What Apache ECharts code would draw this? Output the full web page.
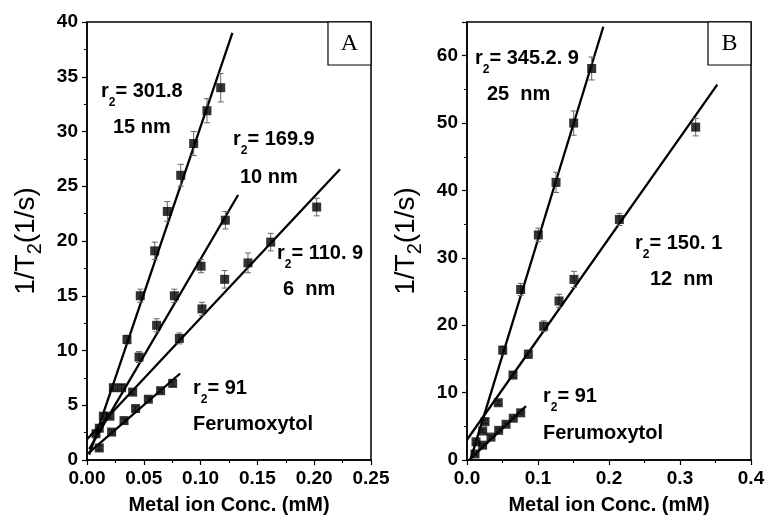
<!DOCTYPE html>
<html>
<head>
<meta charset="utf-8">
<script src="https://cdn.jsdelivr.net/npm/echarts@6/dist/echarts.min.js"></script>
<style>
  html, body { margin: 0; padding: 0; background: #fff; }
  #chart { width: 768px; height: 519px; }
</style>
</head>
<body>
<div id="chart"></div>
<script>
  "use strict";

  // ---- panel A : [conc (mM), 1/T2 (1/s), error] ----
  var a15nm = [
    [0.0079, 2.4, 0.2], [0.0108, 2.9, 0.3], [0.0232, 6.6, 0.3], [0.0352, 11.0, 0.4],
    [0.0469, 15.0, 0.6], [0.0596, 19.1, 0.8], [0.0707, 22.7, 0.9], [0.0825, 26.0, 1.0],
    [0.0939, 28.9, 1.1], [0.1056, 31.9, 1.1], [0.1177, 34.0, 1.3]
  ];
  var a10nm = [
    [0.0144, 4.0, 0.2], [0.0305, 6.6, 0.3], [0.0458, 9.4, 0.5], [0.0613, 12.3, 0.6],
    [0.0769, 15.0, 0.6], [0.1004, 17.7, 0.6], [0.1218, 21.9, 0.8]
  ];
  var a6nm = [
    [0.0202, 4.0, 0.2], [0.0402, 6.2, 0.2], [0.0813, 11.1, 0.5], [0.1012, 13.8, 0.6],
    [0.1212, 16.5, 0.8], [0.1417, 18.0, 0.9], [0.1617, 19.9, 0.8], [0.2022, 23.1, 0.8]
  ];
  var aFeru = [
    [0.0108, 1.1, 0.2], [0.0217, 2.55, 0.2], [0.0326, 3.6, 0.2], [0.0428, 4.7, 0.2],
    [0.054, 5.55, 0.2], [0.0648, 6.33, 0.2], [0.0754, 7.0, 0.3]
  ];
  // fitted lines (end points)
  var aFit15 = [[0.002, 0.5], [0.128, 39.0]];
  var aFit10 = [[0.002, 1.0], [0.133, 24.2]];
  var aFit6 = [[0, 1.9], [0.2227, 26.55]];
  var aFitFeru = [[0.001, 0.6], [0.082, 7.9]];

  // ---- panel B ----
  var b25nm = [
    [0.0127, 2.7, 0.2], [0.0254, 5.7, 0.3], [0.0503, 16.3, 0.6], [0.0756, 25.3, 0.9],
    [0.1005, 33.4, 1.0], [0.1254, 41.2, 1.5], [0.1502, 50.0, 1.8], [0.1756, 58.1, 1.7]
  ];
  var b12nm = [
    [0.0221, 4.3, 0.2], [0.0441, 8.5, 0.3], [0.0648, 12.6, 0.4], [0.0864, 15.7, 0.6],
    [0.108, 19.85, 0.8], [0.1296, 23.6, 1.0], [0.1507, 26.8, 1.2], [0.2146, 35.7, 0.9],
    [0.3221, 49.4, 1.3]
  ];
  var bFeru = [
    [0.0113, 0.9, 0.2], [0.022, 2.2, 0.2], [0.0338, 3.4, 0.2], [0.0446, 4.4, 0.2],
    [0.055, 5.3, 0.2], [0.0652, 6.2, 0.2], [0.0756, 7.0, 0.2]
  ];
  var bFit25 = [[0.005, 0.1], [0.192, 64.3]];
  var bFit12 = [[0, 3.0], [0.3525, 55.7]];
  var bFitFeru = [[0.004, 0.1], [0.083, 8.0]];

  var sans = "Liberation Sans";
  var serif = "Liberation Serif";

  function xAxis(idx, max, interval, digits) {
    return {
      type: "value", gridIndex: idx, min: 0, max: max, interval: interval,
      name: "Metal ion Conc. (mM)", nameLocation: "middle", nameGap: 35,
      nameTextStyle: { fontFamily: sans, fontWeight: "bold", fontSize: 20, color: "#000" },
      axisLine: { show: true, lineStyle: { color: "#000", width: 1.5 } },
      axisTick: { show: true, inside: false, length: 5, lineStyle: { color: "#000", width: 1.2 } },
      minorTick: { show: true, splitNumber: 2, length: 3, lineStyle: { color: "#000", width: 1 } },
      splitLine: { show: false },
      axisLabel: {
        margin: 9, fontFamily: sans, fontWeight: "bold", fontSize: 19, color: "#000",
        formatter: function(v) { return v.toFixed(digits); }
      }
    };
  }

  function yAxis(idx, max, interval) {
    return {
      type: "value", gridIndex: idx, min: 0, max: max, interval: interval,
      name: "1/T{s|2}(1/s)", nameLocation: "middle", nameGap: 42,
      nameTextStyle: {
        fontFamily: sans, fontSize: 28, color: "#000",
        rich: {
          s: { fontFamily: sans, fontSize: 20, color: "#000", verticalAlign: "bottom", lineHeight: 38 }
        }
      },
      axisLine: { show: true, lineStyle: { color: "#000", width: 1.5 } },
      axisTick: { show: true, inside: false, length: 5, lineStyle: { color: "#000", width: 1.2 } },
      minorTick: { show: true, splitNumber: 2, length: 3, lineStyle: { color: "#000", width: 1 } },
      splitLine: { show: false },
      axisLabel: {
        margin: 9, fontFamily: sans, fontWeight: "bold", fontSize: 19, color: "#000",
        showMaxLabel: max % interval === 0,
        formatter: function(v) { return v % interval === 0 ? String(v) : ""; }
      }
    };
  }

  function errorBars(idx, data) {
    return {
      type: "custom", xAxisIndex: idx, yAxisIndex: idx, data: data, z: 3,
      renderItem: function(params, api) {
        var x = api.value(0), y = api.value(1), e = api.value(2);
        var hi = api.coord([x, y + e]);
        var lo = api.coord([x, y - e]);
        var w = 3;
        var st = { stroke: "#666", lineWidth: 1 };
        return {
          type: "group",
          children: [
            { type: "line", shape: { x1: hi[0], y1: hi[1], x2: lo[0], y2: lo[1] }, style: st },
            { type: "line", shape: { x1: hi[0] - w, y1: hi[1], x2: hi[0] + w, y2: hi[1] }, style: st },
            { type: "line", shape: { x1: lo[0] - w, y1: lo[1], x2: lo[0] + w, y2: lo[1] }, style: st }
          ]
        };
      }
    };
  }

  function points(idx, data) {
    return {
      type: "scatter", xAxisIndex: idx, yAxisIndex: idx, symbol: "rect", symbolSize: 9, z: 4,
      itemStyle: { color: "#000" },
      data: data.map(function(d) { return [d[0], d[1]]; })
    };
  }

  function fitLine(idx, data) {
    return {
      type: "line", xAxisIndex: idx, yAxisIndex: idx, data: data, symbol: "none", z: 2,
      lineStyle: { color: "#000", width: 2.3 }, silent: true
    };
  }

  var richLabel = {
    b: { fontFamily: sans, fontWeight: "bold", fontSize: 20, color: "#000", lineHeight: 22, verticalAlign: "top" },
    s: { fontFamily: sans, fontWeight: "bold", fontSize: 12, color: "#000", lineHeight: 28, verticalAlign: "bottom" }
  };

  function note(x, y, text) {
    return {
      type: "text", x: x, y: y, z: 10,
      style: { text: text, rich: richLabel, verticalAlign: "middle", align: "left" }
    };
  }

  function box(x, y, letter) {
    return {
      type: "group", x: x, y: y, z: 10,
      children: [
        { type: "rect", shape: { x: 0, y: 0, width: 43, height: 43 },
          style: { fill: "#fff", stroke: "#000", lineWidth: 1.2 } },
        { type: "text", x: 21.5, y: 22,
          style: { text: letter, fontFamily: serif, fontSize: 24, fill: "#000",
                   align: "center", verticalAlign: "middle" } }
      ]
    };
  }

  var myChart = echarts.init(document.getElementById("chart"), null, { renderer: "canvas" });

  var options = {
    animation: false,
    backgroundColor: "#fff",
    grid: [
      { left: 87, top: 22, width: 284, height: 438, show: true, borderColor: "#000", borderWidth: 1.5,
        outerBoundsMode: "none" },
      { left: 467, top: 22, width: 284, height: 438, show: true, borderColor: "#000", borderWidth: 1.5,
        outerBoundsMode: "none" }
    ],
    xAxis: [xAxis(0, 0.25, 0.05, 2), xAxis(1, 0.4, 0.1, 1)],
    yAxis: [yAxis(0, 40, 5), yAxis(1, 65, 10)],
    series: [
      fitLine(0, aFit15), fitLine(0, aFit10), fitLine(0, aFit6), fitLine(0, aFitFeru),
      errorBars(0, a15nm), errorBars(0, a10nm), errorBars(0, a6nm), errorBars(0, aFeru),
      points(0, a15nm), points(0, a10nm), points(0, a6nm), points(0, aFeru),
      fitLine(1, bFit25), fitLine(1, bFit12), fitLine(1, bFitFeru),
      errorBars(1, b25nm), errorBars(1, b12nm), errorBars(1, bFeru),
      points(1, b25nm), points(1, b12nm), points(1, bFeru)
    ],
    graphic: [
      box(328, 22, "A"),
      box(708, 22, "B"),
      note(101, 95, "{b|r}{s|2}{b|= 301.8}"),
      note(113, 128, "{b|15 nm}"),
      note(233, 143, "{b|r}{s|2}{b|= 169.9}"),
      note(240, 178, "{b|10 nm}"),
      note(277, 257, "{b|r}{s|2}{b|= 110. 9}"),
      note(283, 290, "{b|6  nm}"),
      note(193, 392, "{b|r}{s|2}{b|= 91}"),
      note(193, 425, "{b|Ferumoxytol}"),
      note(475, 62, "{b|r}{s|2}{b|= 345.2. 9}"),
      note(487, 95, "{b|25  nm}"),
      note(635, 247, "{b|r}{s|2}{b|= 150. 1}"),
      note(650, 280, "{b|12  nm}"),
      note(543, 400, "{b|r}{s|2}{b|= 91}"),
      note(543, 434, "{b|Ferumoxytol}")
    ]
  };

  myChart.setOption(options);
</script>
</body>
</html>
